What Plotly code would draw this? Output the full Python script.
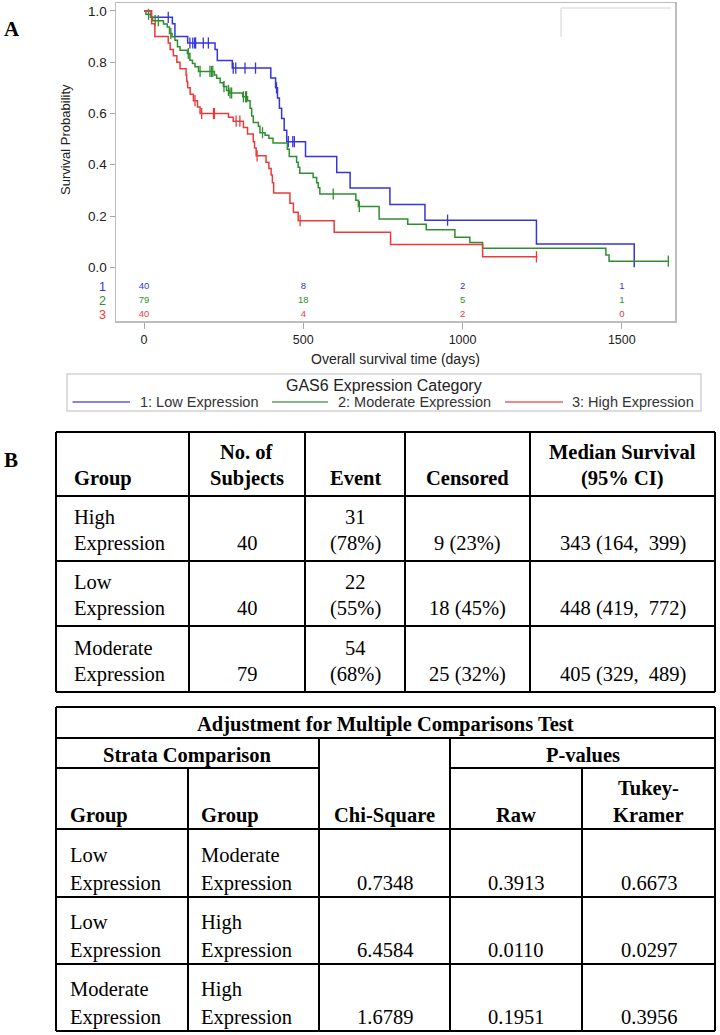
import numpy as np
import plotly.graph_objects as go

W, H = 720, 1035

# ---------------- Kaplan-Meier data ----------------
low_times = [22, 89, 97, 137, 223, 230, 277, 398, 413, 419, 425, 432, 440, 448,
             507, 605, 647, 772, 882, 1232, 1539]
low_surv = [0.975, 0.95, 0.90, 0.875, 0.85, 0.807, 0.777, 0.738, 0.70, 0.66, 0.62,
            0.58, 0.535, 0.49, 0.432, 0.37, 0.309, 0.245, 0.184, 0.091, 0.0]
low_censor = [76, 144, 153, 159, 162, 186, 202, 280, 288, 317, 350, 416, 453, 467, 472, 953]
low_end = 1539

mod_times = [6, 20, 27, 61, 73, 80, 88, 97, 105, 113, 136, 144, 152, 160, 171,
             221, 228, 239, 249, 259, 268, 310, 325, 333, 338, 343, 359, 364, 380,
             392, 405, 450, 456, 479, 484, 489, 531, 542, 547, 552, 665, 673, 738,
             828, 886, 976, 1023, 1063, 1450, 1460]
mod_surv = [0.987, 0.975, 0.962, 0.949, 0.937, 0.912, 0.899, 0.886, 0.86, 0.847,
            0.834, 0.808, 0.795, 0.782, 0.764, 0.75, 0.737, 0.72, 0.705, 0.69, 0.68,
            0.665, 0.65, 0.62, 0.59, 0.565, 0.55, 0.525, 0.515, 0.503, 0.485, 0.46,
            0.432, 0.41, 0.39, 0.367, 0.35, 0.33, 0.31, 0.286, 0.262, 0.237, 0.188,
            0.168, 0.146, 0.117, 0.097, 0.074, 0.048, 0.024]
mod_censor = [14, 35, 45, 84, 139, 176, 207, 212, 216, 251, 265, 270, 275, 312, 319,
              322, 372, 594, 676, 1646]
mod_end = 1646

high_times = [24, 34, 76, 82, 92, 103, 113, 132, 134, 137, 145, 155, 168, 176, 265,
              280, 312, 325, 343, 347, 352, 383, 392, 399, 403, 407, 458, 469, 484,
              597, 774, 1063]
high_surv = [0.95, 0.90, 0.875, 0.85, 0.825, 0.80, 0.775, 0.75, 0.725, 0.70, 0.675,
             0.65, 0.625, 0.60, 0.585, 0.57, 0.545, 0.52, 0.49, 0.465, 0.435, 0.41,
             0.385, 0.36, 0.33, 0.29, 0.25, 0.215, 0.182, 0.137, 0.089, 0.041]
high_censor = [160, 181, 218, 221, 289, 301, 355, 490, 1232]
high_end = 1235

risk_times = [0, 500, 1000, 1500]
risk_low = [40, 8, 2, 1]
risk_mod = [79, 18, 5, 1]
risk_high = [40, 4, 2, 0]

group_labels = ["1: Low Expression", "2: Moderate Expression", "3: High Expression"]
legend_title = "GAS6 Expression Category"
x_ticks = [0, 500, 1000, 1500]
y_ticks = [0.0, 0.2, 0.4, 0.6, 0.8, 1.0]

# ---------------- Table data ----------------
t1_headers = ["Group", "No. of\nSubjects", "Event", "Censored", "Median Survival\n(95% CI)"]
t1_groups = ["High\nExpression", "Low\nExpression", "Moderate\nExpression"]
t1_subjects = [40, 40, 79]
t1_events = [31, 22, 54]
t1_event_pct = [78, 55, 68]
t1_censored = [9, 18, 25]
t1_censored_pct = [23, 45, 32]
t1_median = [343, 448, 405]
t1_ci_low = [164, 419, 329]
t1_ci_high = [399, 772, 489]

t2_title = "Adjustment for Multiple Comparisons Test"
t2_group1 = ["Low\nExpression", "Low\nExpression", "Moderate\nExpression"]
t2_group2 = ["Moderate\nExpression", "High\nExpression", "High\nExpression"]
t2_chisq = [0.7348, 6.4584, 1.6789]
t2_p_raw = [0.3913, 0.0110, 0.1951]
t2_p_tukey = [0.6673, 0.0297, 0.3956]

# ---------------- styling ----------------
BLUE = "#3535dc"
GREEN = "#2f8f2f"
RED = "#ec3a3a"
SANS = "Liberation Sans, Arial, sans-serif"
SERIF = "Liberation Serif, Times New Roman, serif"
TXT = "#222222"


def px(X):
    return X / W


def py(Y):
    return 1 - Y / H


shapes = []
annotations = []


def pline(x0, y0, x1, y1, color="black", width=2):
    shapes.append(dict(type="line", xref="paper", yref="paper",
                       x0=px(x0), y0=py(y0), x1=px(x1), y1=py(y1),
                       line=dict(color=color, width=width), layer="above"))


def ptext(X, Y, s, size, family=SERIF, color="black", xanchor="center", angle=0):
    annotations.append(dict(xref="paper", yref="paper", x=px(X), y=py(Y), text=s,
                            showarrow=False, xanchor=xanchor, yanchor="middle",
                            textangle=angle,
                            font=dict(size=size, family=family, color=color)))


def cell(x0, x1, bottom, s, offset, spacing, align="center", pad=0, bold=False, size=20.5):
    lines = s.split("\n")
    for i, ln in enumerate(reversed(lines)):
        Y = bottom - offset - i * spacing
        t = ln.replace("  ", " \u00a0")
        if bold:
            t = "<b>" + t + "</b>"
        if align == "left":
            ptext(x0 + pad, Y, t, size, xanchor="left")
        else:
            ptext((x0 + x1) / 2, Y, t, size)


fig = go.Figure()


def step_value(times, surv, t):
    idx = np.searchsorted(np.array(times), t, side="right") - 1
    return 1.0 if idx < 0 else surv[idx]


groups = [
    (low_times, low_surv, low_censor, low_end, BLUE),
    (mod_times, mod_surv, mod_censor, mod_end, GREEN),
    (high_times, high_surv, high_censor, high_end, RED),
]

for (times, surv, cens, end, col), name in zip(groups, group_labels):
    xs = [0] + list(times) + [end]
    ys = [1.0] + list(surv) + [surv[-1]]
    fig.add_trace(go.Scatter(x=xs, y=ys, mode="lines", line=dict(color=col, width=1.5, shape="hv"),
                             name=name, showlegend=False, hoverinfo="skip"))
    cy = [step_value(times, surv, t) for t in cens]
    fig.add_trace(go.Scatter(x=cens, y=cy, mode="markers",
                             marker=dict(symbol="line-ns-open", size=8, color=col,
                                         line=dict(color=col, width=1.3)),
                             showlegend=False, hoverinfo="skip"))

# at-risk rows (in data space, below the curves)
risk_rows = [(risk_low, BLUE, -0.0757), (risk_mod, GREEN, -0.131), (risk_high, RED, -0.183)]
for vals, col, yv in risk_rows:
    fig.add_trace(go.Scatter(x=risk_times, y=[yv] * len(risk_times), mode="text",
                             text=[str(v) for v in vals],
                             textfont=dict(size=9.5, color=col, family=SANS),
                             showlegend=False, hoverinfo="skip"))

for i, (col, Y) in enumerate(zip([BLUE, GREEN, RED], [287, 301, 314.5])):
    ptext(102, Y, str(i + 1), 12.5, family=SANS, color=col)

# axis titles
ptext(395.5, 359, "Overall survival time (days)", 14, family=SANS, color=TXT)
ptext(66, 140, "Survival Probability", 13, family=SANS, color=TXT, angle=-90)

# inset empty box in top-right corner
pline(561, 8, 671, 8, color="#e2e2e2", width=1.5)
pline(561, 8, 561, 37, color="#e2e2e2", width=1.5)

# custom legend
shapes.append(dict(type="rect", xref="paper", yref="paper", x0=px(67), x1=px(701),
                   y0=py(374), y1=py(411), line=dict(color="#d2d2d2", width=1.5)))
ptext(384, 385.5, legend_title, 16, family=SANS, color=TXT)
leg_items = [(72.5, 130, 138), (272, 328, 336), (505, 563, 570)]
for (l0, l1, tx), col, lab in zip(leg_items, [BLUE, GREEN, RED], group_labels):
    shapes.append(dict(type="line", xref="paper", yref="paper", x0=px(l0), x1=px(l1),
                       y0=py(402), y1=py(402), line=dict(color=col, width=2), opacity=0.6))
    ptext(tx, 402.5, lab, 14.5, family=SANS, color="#333333", xanchor="left")

# panel labels
ptext(12, 29, "<b>A</b>", 21)
ptext(11, 460, "<b>B</b>", 21)

# ---------------- Table 1 ----------------
c1 = [56, 189, 305, 405, 530, 715]
r1 = [432, 496, 561, 626, 692]
for X in c1:
    pline(X, r1[0], X, r1[-1])
for Y in r1:
    pline(c1[0], Y, c1[-1], Y)

for j, hd in enumerate(t1_headers):
    cell(c1[j], c1[j + 1], r1[1], hd, 18, 26, align="left" if j == 0 else "center",
         pad=16, bold=True)

for i in range(len(t1_groups)):
    bottom = r1[i + 2]
    row = [t1_groups[i], str(t1_subjects[i]),
           "%d\n(%d%%)" % (t1_events[i], t1_event_pct[i]),
           "%d (%d%%)" % (t1_censored[i], t1_censored_pct[i]),
           "%d (%d,  %d)" % (t1_median[i], t1_ci_low[i], t1_ci_high[i])]
    for j, s in enumerate(row):
        cell(c1[j], c1[j + 1], bottom, s, 18, 26, align="left" if j == 0 else "center", pad=16)

# ---------------- Table 2 ----------------
c2 = [56, 188, 319, 450, 582, 715]
top2, r_title, r_strata, r_head = 707, 738, 768, 829
body2 = [897, 964, 1031]
bot2 = body2[-1]
pline(c2[0], top2, c2[-1], top2)
pline(c2[0], r_title, c2[-1], r_title)
pline(c2[0], r_strata, c2[2], r_strata)
pline(c2[3], r_strata, c2[5], r_strata)
pline(c2[0], r_head, c2[-1], r_head)
for Y in body2:
    pline(c2[0], Y, c2[-1], Y)
pline(c2[0], top2, c2[0], bot2)
pline(c2[-1], top2, c2[-1], bot2)
pline(c2[1], r_strata, c2[1], bot2)
pline(c2[2], r_title, c2[2], bot2)
pline(c2[3], r_title, c2[3], bot2)
pline(c2[4], r_strata, c2[4], bot2)

cell(c2[0], c2[-1], r_title, t2_title, 14, 27, bold=True)
cell(c2[0], c2[2], r_strata, "Strata Comparison", 13, 27, bold=True)
cell(c2[3], c2[5], r_strata, "P-values", 13, 27, bold=True)
t2_heads = ["Group", "Group", "Chi-Square", "Raw", "Tukey-\nKramer"]
pads = [12, 11, 0, 0, 0]
for j, hd in enumerate(t2_heads):
    cell(c2[j], c2[j + 1], r_head, hd, 14, 27, align="left" if j < 2 else "center",
         pad=pads[j], bold=True)
for i in range(3):
    row = [t2_group1[i], t2_group2[i], "%.4f" % t2_chisq[i], "%.4f" % t2_p_raw[i],
           "%.4f" % t2_p_tukey[i]]
    for j, s in enumerate(row):
        cell(c2[j], c2[j + 1], body2[i], s, 14, 28, align="left" if j < 2 else "center",
             pad=pads[j])

# ---------------- layout ----------------
fig.update_layout(
    width=W, height=H, autosize=False,
    margin=dict(l=0, r=0, t=0, b=0),
    paper_bgcolor="white", plot_bgcolor="white",
    showlegend=False,
    shapes=shapes, annotations=annotations,
    xaxis=dict(domain=[px(116), px(675)], range=[-88, 1667],
               tickvals=x_ticks, ticktext=[str(v) for v in x_ticks],
               ticks="outside", ticklen=6, tickcolor="#a8a8a8", tickwidth=1,
               showline=True, linecolor="#bdbdbd", linewidth=1.5, mirror=True,
               showgrid=False, zeroline=False,
               tickfont=dict(size=12.5, family=SANS, color=TXT)),
    yaxis=dict(domain=[py(321), py(3)], range=[-0.2095, 1.031],
               tickvals=y_ticks, ticktext=["%.1f" % v for v in y_ticks],
               ticks="outside", ticklen=5, tickcolor="#a8a8a8", tickwidth=1,
               showline=True, linecolor="#bdbdbd", linewidth=1.5, mirror=True,
               showgrid=False, zeroline=False,
               tickfont=dict(size=13.5, family=SANS, color=TXT)),
)

fig.write_html("out.html",
               config={"displayModeBar": False, "staticPlot": True},
               post_script="document.body.style.margin='0';document.body.style.padding='0';")
